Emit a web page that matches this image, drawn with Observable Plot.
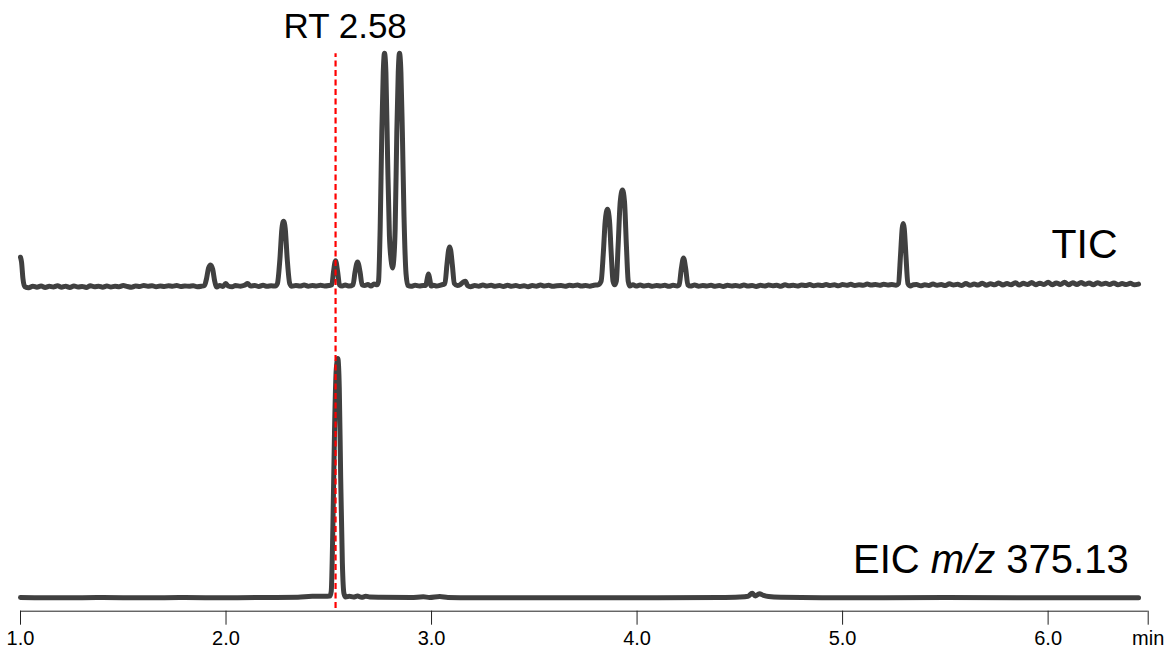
<!DOCTYPE html>
<html>
<head>
<meta charset="utf-8">
<script src="https://cdn.jsdelivr.net/npm/d3@7"></script>
<script src="https://cdn.jsdelivr.net/npm/@observablehq/plot@0.6"></script>
<style>
  html, body { margin: 0; padding: 0; background: #fff; }
  #chart { width: 1173px; height: 657px; }
</style>
</head>
<body>
<div id="chart"></div>
<script>
// ---- Data (retention time in min, relative intensity) ----
const ticPoints = [
  [1.000,13],[1.005,11],[1.012,4],[1.020,0.8],[1.040,0.3],[1.060,0.9],[1.080,0.5],[1.100,1.0],
  [1.120,0.4],[1.140,0.9],[1.160,0.6],[1.180,1.1],[1.200,0.5],[1.220,0.9],[1.240,0.4],[1.260,1.0],
  [1.280,0.6],[1.300,0.8],[1.320,0.4],[1.340,1.1],[1.360,0.7],[1.380,0.9],[1.400,0.5],[1.420,1.0],
  [1.440,0.6],[1.460,0.9],[1.480,0.7],[1.500,1.2],[1.520,0.8],[1.540,0.5],[1.560,1.0],[1.580,0.8],
  [1.600,1.2],[1.620,0.9],[1.640,1.1],[1.660,0.7],[1.680,1.0],[1.700,0.8],[1.720,1.1],[1.740,0.9],
  [1.760,1.2],[1.780,0.8],[1.800,1.0],[1.820,0.9],[1.840,1.1],[1.860,0.7],[1.880,0.9],
  [1.895,1.2],[1.905,4],[1.915,8.5],[1.925,9.8],[1.935,8],[1.945,3],[1.955,0.6],
  [1.970,1.2],[1.985,0.8],[1.998,2.0],[2.010,1.0],[2.030,0.7],[2.046,1.2],[2.070,0.9],[2.090,1.3],
  [2.105,2.0],[2.120,1.0],[2.140,1.2],[2.160,0.8],[2.180,1.3],[2.200,0.9],[2.220,1.1],[2.240,1.0],
  [2.250,2],[2.262,12],[2.272,25],[2.280,28],[2.288,25],[2.298,12],[2.310,2],
  [2.320,0.9],[2.340,1.2],[2.360,1.0],[2.380,1.4],[2.400,0.9],[2.420,1.2],[2.440,1.0],[2.460,1.3],
  [2.480,1.0],[2.500,1.2],
  [2.515,1.5],[2.523,7],[2.533,11.5],[2.543,7],[2.552,1.5],
  [2.565,1.0],[2.580,1.4],[2.600,1.0],
  [2.618,1.5],[2.628,7],[2.640,11],[2.652,7],[2.662,1.5],
  [2.675,1.2],[2.690,1.6],[2.705,1.0],[2.720,1.8],[2.735,1.5],
  [2.742,3],[2.750,25],[2.758,65],[2.765,90],[2.771,98],[2.778,90],[2.786,55],[2.795,22],
  [2.806,10],[2.810,8.5],[2.814,10],[2.823,25],[2.831,65],[2.838,90],[2.844,98],[2.851,90],
  [2.858,65],[2.866,30],[2.876,6],[2.885,1.2],
  [2.900,0.9],[2.920,1.3],[2.940,1.0],[2.960,1.2],
  [2.972,1.2],[2.979,4],[2.985,6],[2.991,4],[2.998,1.0],
  [3.010,1.3],[3.025,1.0],[3.045,1.4],
  [3.065,2],[3.075,10],[3.083,16],[3.088,17.3],[3.093,16],[3.101,10],[3.111,2],
  [3.125,1.2],[3.140,1.6],[3.155,2.7],[3.165,3.0],[3.175,1.2],[3.190,0.7],[3.210,1.2],[3.230,0.9],
  [3.250,1.4],[3.270,1.0],[3.290,1.3],[3.310,0.9],[3.330,1.2],[3.350,0.8],[3.370,1.3],[3.390,0.9],
  [3.410,1.2],[3.430,0.8],[3.450,1.1],[3.470,0.7],[3.490,1.2],[3.510,0.9],[3.530,1.4],[3.550,1.0],
  [3.570,1.3],[3.590,0.9],[3.610,1.1],[3.630,1.2],[3.650,0.9],[3.670,1.3],[3.690,1.1],[3.710,1.4],
  [3.730,1.0],[3.750,1.2],[3.770,0.9],[3.790,1.3],
  [3.810,1.5],[3.825,3],[3.836,15],[3.845,28],[3.856,33],[3.866,28],[3.874,15],[3.883,3],
  [3.891,1.5],[3.899,3],[3.908,18],[3.918,36],[3.929,41],[3.939,36],[3.948,18],[3.957,3],
  [3.965,1.0],[3.980,1.5],[3.995,1.0],[4.015,1.4],[4.035,1.0],[4.055,1.3],[4.075,0.9],[4.095,1.2],
  [4.115,1.0],[4.135,1.3],[4.155,0.9],[4.175,1.3],[4.195,1.0],
  [4.205,1.5],[4.215,8],[4.226,12.7],[4.237,8],[4.247,1.5],
  [4.260,1.0],[4.280,1.4],[4.300,0.9],[4.320,1.2],[4.340,1.0],[4.360,1.3],[4.380,0.9],[4.400,1.2],
  [4.420,0.8],[4.440,1.3],[4.460,1.0],[4.480,1.2],[4.500,0.9],[4.520,1.4],[4.540,1.0],[4.560,1.2],
  [4.580,0.8],[4.600,1.3],[4.620,1.0],[4.640,1.4],[4.660,1.1],[4.680,1.3],[4.700,0.9],[4.720,1.5],
  [4.740,1.1],[4.760,1.3],[4.780,1.0],[4.800,1.4],[4.820,1.2],[4.840,1.6],[4.860,1.1],[4.880,1.4],
  [4.900,1.2],[4.920,1.6],[4.940,1.2],[4.960,1.5],[4.980,1.1],[5.000,1.6],[5.020,1.3],[5.040,1.7],
  [5.060,1.2],[5.080,1.5],[5.100,1.3],[5.120,1.8],[5.140,1.4],[5.160,1.6],[5.180,1.3],[5.200,1.7],
  [5.220,1.4],[5.240,1.6],[5.260,1.3],
  [5.272,2],[5.282,14],[5.290,25],[5.295,27],[5.300,25],[5.308,14],[5.318,2],
  [5.330,1.0],[5.345,1.5],[5.360,1.6],[5.380,1.1],[5.400,1.5],[5.420,1.2],[5.440,1.8],
  [5.460,1.3],[5.480,1.6],[5.500,1.2],[5.520,1.9],[5.540,1.4],[5.560,1.7],[5.580,1.2],[5.600,2.0],
  [5.620,1.3],[5.640,1.8],[5.660,1.4],[5.680,2.2],[5.700,1.3],[5.720,1.9],[5.740,1.5],[5.760,2.3],
  [5.780,1.4],[5.800,2.0],[5.820,1.5],[5.840,2.4],[5.860,1.4],[5.880,2.1],[5.900,1.6],[5.920,2.5],
  [5.940,1.5],[5.960,2.2],[5.980,1.6],[6.000,2.6],[6.020,1.5],[6.040,2.3],[6.060,1.6],[6.080,2.6],
  [6.100,1.5],[6.120,2.4],[6.140,1.6],[6.160,2.5],[6.180,1.7],[6.200,2.3],[6.220,1.5],[6.240,2.4],
  [6.260,1.7],[6.280,2.2],[6.300,1.6],[6.320,2.3],[6.340,1.5],[6.360,2.0],[6.380,1.6],[6.400,2.1],
  [6.420,1.5],[6.440,1.8]
];

const eicPoints = [
  [1.000,0.4],[1.200,0.3],[1.400,0.4],[1.600,0.3],[1.800,0.4],[2.000,0.3],[2.200,0.4],[2.350,0.5],
  [2.420,0.9],[2.480,0.9],[2.505,1.0],
  [2.512,3],[2.520,30],[2.528,70],[2.536,95],[2.544,100],[2.551,88],[2.558,50],[2.566,15],
  [2.574,2],[2.582,0.6],[2.600,0.9],[2.620,0.6],[2.640,1.0],[2.660,0.5],[2.680,0.9],[2.700,0.6],
  [2.750,0.5],[2.900,0.4],[2.960,0.7],[2.990,0.4],[3.040,0.8],[3.080,0.4],[3.200,0.3],[3.500,0.3],
  [3.800,0.3],[4.100,0.3],[4.400,0.4],[4.500,0.6],[4.540,0.9],[4.560,2.2],[4.575,1.0],[4.595,2.0],
  [4.615,1.3],[4.640,0.8],[4.700,0.5],[4.900,0.3],[5.200,0.3],[5.500,0.4],[6.000,0.3],[6.440,0.3]
];

const traceLabels = ["TIC", "EIC m/z 375.13"];
const markerRT = [2.533];
const markerLabel = ["RT 2.58"];
const markerLabelRT = [2.58];
const tickValues = [1, 2, 3, 4, 5, 6, 6.487];
const tickLabels = ["1.0", "2.0", "3.0", "4.0", "5.0", "6.0", "min"];

// ---- Build tables ----
const ticOffset = 129.2; // vertical stacking offset of the TIC trace
const tic = ticPoints.map(([t, v]) => ({t, y: v + ticOffset}));
const eic = eicPoints.map(([t, v]) => ({t, y: v}));
const ticks = tickValues.map((t, i) => ({t, label: tickLabels[i]}));

const font = "'Liberation Sans', Arial, Helvetica, sans-serif";
const traceColor = "#404040";
const xDomain = [1, 6.487];
const yDomain = [-5.3, 232.5];
const pxPerUnit = 2.4; // vertical pixels per intensity unit

const chart = Plot.plot({
  width: 1173,
  height: 657,
  marginLeft: 20,
  marginRight: 25.3,
  marginTop: 40,
  marginBottom: 46.3,
  style: {fontFamily: font, color: "#000", background: "#fff", overflow: "visible"},
  x: {domain: xDomain, axis: null},
  y: {domain: yDomain, axis: null},
  marks: [
    // axis line
    Plot.ruleY([yDomain[0]], {x1: xDomain[0], x2: xDomain[1], stroke: "#222", strokeWidth: 1}),
    // tick marks hanging 14px below the axis line
    Plot.ruleX(ticks, {x: "t", y1: yDomain[0], y2: yDomain[0] - 14 / pxPerUnit, stroke: "#222", strokeWidth: 1}),
    // tick labels
    Plot.text(ticks, {x: "t", text: "label", frameAnchor: "bottom", dy: 20, lineAnchor: "top",
      fontSize: 20, fill: "#000", textAnchor: "middle"}),
    Plot.line(tic, {x: "t", y: "y", stroke: traceColor, strokeWidth: 5, curve: "monotone-x",
      strokeLinejoin: "round", strokeLinecap: "round"}),
    Plot.line(eic, {x: "t", y: "y", stroke: traceColor, strokeWidth: 5, curve: "monotone-x",
      strokeLinejoin: "round", strokeLinecap: "round"}),
    Plot.ruleX(markerRT, {y1: -4.2, y2: 227, stroke: "#ff0000", strokeWidth: 2.2, strokeDasharray: "6,3.5"}),
    Plot.text(markerLabel, {x: markerLabelRT, y: [233.75], text: (d) => d, fontSize: 35,
      lineAnchor: "bottom", textAnchor: "middle", fill: "#000"}),
    Plot.text([traceLabels[0]], {x: [6.338], y: [141.7], text: (d) => d, fontSize: 41,
      lineAnchor: "bottom", textAnchor: "end", fill: "#000"}),
    Plot.text([traceLabels[1]], {x: [6.392], y: [10.8], text: (d) => d, fontSize: 40,
      lineAnchor: "bottom", textAnchor: "end", fill: "#000"})
  ]
});

// Italicise "m/z" in the EIC label (keeps it as real text)
chart.querySelectorAll("text").forEach((el) => {
  if (el.textContent === traceLabels[1]) {
    const parts = [["EIC ", false], ["m/z", true], [" 375.13", false]];
    while (el.firstChild) el.removeChild(el.firstChild);
    for (const [s, it] of parts) {
      const ts = document.createElementNS("http://www.w3.org/2000/svg", "tspan");
      ts.textContent = s;
      if (it) ts.setAttribute("font-style", "italic");
      el.appendChild(ts);
    }
  }
});

document.getElementById("chart").appendChild(chart);
</script>
</body>
</html>
